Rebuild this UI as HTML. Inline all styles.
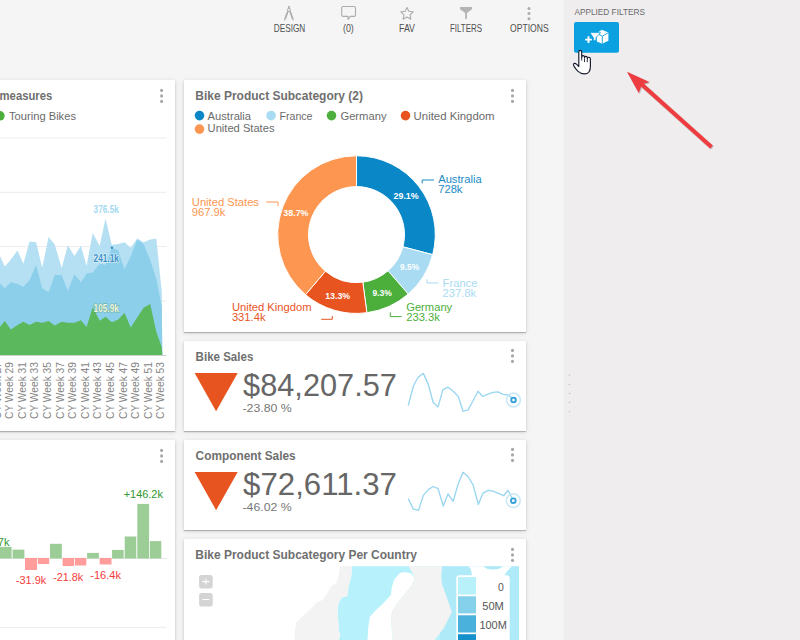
<!DOCTYPE html>
<html><head><meta charset="utf-8"><style>
html,body{margin:0;padding:0;}
body{width:800px;height:640px;overflow:hidden;background:#f5f5f5;position:relative;font-family:"Liberation Sans", sans-serif;}
.panel{position:absolute;left:565px;top:0;width:235px;height:640px;background:#efedee;box-shadow:-1px 0 1px rgba(0,0,0,0.035);}
.card{position:absolute;background:#fff;box-shadow:0 1px 1px rgba(0,0,0,0.22),0 1px 5px rgba(0,0,0,0.13);}
svg{position:absolute;left:0;top:0;}
</style></head><body>
<div class="panel"></div>
<div class="card" style="left:-167px;top:80px;width:342px;height:351px"></div>
<div class="card" style="left:184px;top:80px;width:342px;height:252px"></div>
<div class="card" style="left:184px;top:341px;width:342px;height:90px"></div>
<div class="card" style="left:184px;top:440px;width:342px;height:90px"></div>
<div class="card" style="left:184px;top:539px;width:342px;height:120px"></div>
<div class="card" style="left:-167px;top:440px;width:342px;height:220px"></div>
<svg width="800" height="640" viewBox="0 0 800 640" font-family='"Liberation Sans", sans-serif'>
<text x="273.8" y="31.9" font-size="10.1" fill="#505050" textLength="31.5" lengthAdjust="spacingAndGlyphs">DESIGN</text>
<text x="343" y="31.9" font-size="10.1" fill="#505050" textLength="10.8" lengthAdjust="spacingAndGlyphs">(0)</text>
<text x="399" y="31.9" font-size="10.1" fill="#505050" textLength="16" lengthAdjust="spacingAndGlyphs">FAV</text>
<text x="450" y="31.9" font-size="10.1" fill="#505050" textLength="32" lengthAdjust="spacingAndGlyphs">FILTERS</text>
<text x="510" y="31.9" font-size="10.1" fill="#505050" textLength="38.7" lengthAdjust="spacingAndGlyphs">OPTIONS</text>
<text x="574.4" y="14.8" font-size="9.7" fill="#6a6a6a" textLength="70.6" lengthAdjust="spacingAndGlyphs">APPLIED FILTERS</text>
<rect x="288.1" y="6" width="1.7" height="2.4" fill="#acacac"/><circle cx="288.95" cy="9.8" r="1.5" fill="none" stroke="#acacac" stroke-width="1"/>
<path d="M287.9,11.2 L285,19.2 M290,11.2 L292.9,19.2" stroke="#acacac" stroke-width="1.8" fill="none"/><path d="M285,19.2 L284.5,20.6 M292.9,19.2 L293.4,20.6" stroke="#acacac" stroke-width="1" fill="none"/>
<path d="M343,6.5 h11.2 q1.3,0 1.3,1.3 v7.3 q0,1.3 -1.3,1.3 h-3.8 l-2.3,3 v-3 h-5.1 q-1.3,0 -1.3,-1.3 v-7.3 q0,-1.3 1.3,-1.3 z" fill="none" stroke="#acacac" stroke-width="1.1" stroke-linejoin="round"/>
<polygon points="407.00,7.40 408.88,11.31 413.18,11.89 410.04,14.89 410.82,19.16 407.00,17.10 403.18,19.16 403.96,14.89 400.82,11.89 405.12,11.31" fill="none" stroke="#acacac" stroke-width="1.1" stroke-linejoin="round"/>
<path d="M460,7 H472 V9.3 L467,13 V18.4 L465.2,19.2 V13 L460,9.3 Z" fill="#b4b4b4"/>
<g fill="#acacac"><circle cx="529" cy="8.4" r="1.5"/><circle cx="529" cy="13.5" r="1.5"/><circle cx="529" cy="18.7" r="1.5"/></g>
<text x="-0.4" y="100.2" font-size="12.6" fill="#6f6f6f" font-weight="bold" textLength="52.6" lengthAdjust="spacingAndGlyphs">measures</text>
<g fill="#a6a6a6"><circle cx="161.60000000000002" cy="90.4" r="1.55"/><circle cx="161.60000000000002" cy="95.9" r="1.55"/><circle cx="161.60000000000002" cy="101.4" r="1.55"/></g>
<circle cx="-0.1" cy="115.8" r="4.8" fill="#4caf3c"/>
<text x="9" y="119.8" font-size="11.6" fill="#6b6b6b" textLength="67" lengthAdjust="spacingAndGlyphs">Touring Bikes</text>
<line x1="0" y1="138" x2="166.5" y2="138" stroke="#ececec" stroke-width="1"/>
<line x1="0" y1="192.3" x2="166.5" y2="192.3" stroke="#ececec" stroke-width="1"/>
<line x1="0" y1="246.6" x2="166.5" y2="246.6" stroke="#ececec" stroke-width="1"/>
<line x1="0" y1="300.9" x2="166.5" y2="300.9" stroke="#ececec" stroke-width="1"/>
<polygon points="-1,256.1 0,256.1 4.8,266.4 10.9,259.4 17.5,250.6 23.4,263.8 29.5,241.4 36.1,242.3 42.2,267.7 48.6,237.1 54.7,244.5 61.7,268.1 67.8,245.2 74.4,256.1 80.9,245.8 86.6,266 92.7,233.1 99.7,246 105.5,218.5 111.8,245 118.3,244 124.5,242.2 130.7,247.8 137.2,238.4 143.6,242.2 150.2,239.4 156.3,238.4 161.8,292 162.3,355.2 -1,355.2" fill="#b5e0f3"/>
<polygon points="-1,283.4 0,283.4 4.8,288.3 10.9,282.3 17.5,283.9 23.4,286.7 29.5,280.2 36.1,264.8 42.2,288.3 48.6,292.2 54.7,275.1 61.7,275.1 67.8,291.1 74.4,274.3 80.9,282.3 86.6,273.6 92.7,272.6 99.7,263.8 105.5,264.7 111.8,247.8 118.3,250.6 124.5,269.4 130.7,256.3 137.2,239.4 143.6,244.1 150.2,260 156.3,278.8 161.8,306.9 162.3,355.2 -1,355.2" fill="#8ccfeb"/>
<polygon points="-1,326.8 0,326.8 4.8,321.1 10.9,329.4 17.5,325 23.4,321.7 29.5,325 36.1,321.7 42.2,322.8 48.6,321.1 54.7,325.4 61.7,321.7 67.8,322.8 74.4,322.8 80.9,320.2 86.6,326.9 92.7,307.3 99.7,320.8 105.5,316.8 111.8,322.2 118.3,319.6 124.5,312.8 130.7,327.4 137.2,317.6 143.6,307.8 150.2,303.9 156.3,331.8 161.8,347.2 162.3,355.2 -1,355.2" fill="#5cb85c"/>
<line x1="0" y1="355.5" x2="166.5" y2="355.5" stroke="#d0d0d0" stroke-width="1"/>
<circle cx="111.9" cy="247.8" r="1.3" fill="#3d8fc4"/>
<text x="93.6" y="212.8" font-size="10.3" fill="#a3d8f1" font-weight="bold" textLength="25.2" lengthAdjust="spacingAndGlyphs" stroke="#fff" stroke-width="1.2" stroke-opacity="0.8" paint-order="stroke" stroke-linejoin="round">376.5k</text>
<text x="93.6" y="261.6" font-size="10.3" fill="#3a8fc6" font-weight="bold" textLength="25.2" lengthAdjust="spacingAndGlyphs" stroke="#fff" stroke-width="1.2" stroke-opacity="0.8" paint-order="stroke" stroke-linejoin="round">241.1k</text>
<text x="93.6" y="311.8" font-size="10.3" fill="#eef7e6" font-weight="bold" textLength="25.2" lengthAdjust="spacingAndGlyphs" stroke="#4c8f3c" stroke-width="0.9" stroke-opacity="0.7" paint-order="stroke">105.9k</text>
<text transform="translate(0.5,419) rotate(-90)" font-size="10.9" fill="#858585" textLength="57" lengthAdjust="spacingAndGlyphs">CY Week 27</text>
<text transform="translate(13.1,419) rotate(-90)" font-size="10.9" fill="#858585" textLength="57" lengthAdjust="spacingAndGlyphs">CY Week 29</text>
<text transform="translate(25.7,419) rotate(-90)" font-size="10.9" fill="#858585" textLength="57" lengthAdjust="spacingAndGlyphs">CY Week 31</text>
<text transform="translate(38.3,419) rotate(-90)" font-size="10.9" fill="#858585" textLength="57" lengthAdjust="spacingAndGlyphs">CY Week 33</text>
<text transform="translate(50.9,419) rotate(-90)" font-size="10.9" fill="#858585" textLength="57" lengthAdjust="spacingAndGlyphs">CY Week 35</text>
<text transform="translate(63.5,419) rotate(-90)" font-size="10.9" fill="#858585" textLength="57" lengthAdjust="spacingAndGlyphs">CY Week 37</text>
<text transform="translate(76.1,419) rotate(-90)" font-size="10.9" fill="#858585" textLength="57" lengthAdjust="spacingAndGlyphs">CY Week 39</text>
<text transform="translate(88.7,419) rotate(-90)" font-size="10.9" fill="#858585" textLength="57" lengthAdjust="spacingAndGlyphs">CY Week 41</text>
<text transform="translate(101.3,419) rotate(-90)" font-size="10.9" fill="#858585" textLength="57" lengthAdjust="spacingAndGlyphs">CY Week 43</text>
<text transform="translate(113.9,419) rotate(-90)" font-size="10.9" fill="#858585" textLength="57" lengthAdjust="spacingAndGlyphs">CY Week 45</text>
<text transform="translate(126.5,419) rotate(-90)" font-size="10.9" fill="#858585" textLength="57" lengthAdjust="spacingAndGlyphs">CY Week 47</text>
<text transform="translate(139.1,419) rotate(-90)" font-size="10.9" fill="#858585" textLength="57" lengthAdjust="spacingAndGlyphs">CY Week 49</text>
<text transform="translate(151.7,419) rotate(-90)" font-size="10.9" fill="#858585" textLength="57" lengthAdjust="spacingAndGlyphs">CY Week 51</text>
<text transform="translate(164.3,419) rotate(-90)" font-size="10.9" fill="#858585" textLength="57" lengthAdjust="spacingAndGlyphs">CY Week 53</text>
<g fill="#a6a6a6"><circle cx="161.60000000000002" cy="450.4" r="1.55"/><circle cx="161.60000000000002" cy="455.9" r="1.55"/><circle cx="161.60000000000002" cy="461.4" r="1.55"/></g>
<line x1="0" y1="558.5" x2="167" y2="558.5" stroke="#e6e6e6" stroke-width="1"/>
<rect x="-1" y="546.8" width="12.6" height="11.7" fill="#9ccd97"/>
<rect x="12.6" y="549.6" width="11.8" height="8.9" fill="#9ccd97"/>
<rect x="25" y="557.9" width="12.0" height="12.1" fill="#ff9d9d"/>
<rect x="37.8" y="557.9" width="11.4" height="6.1" fill="#ff9d9d"/>
<rect x="50" y="543.8" width="11.8" height="14.7" fill="#9ccd97"/>
<rect x="62.6" y="557.9" width="11.4" height="8.1" fill="#ff9d9d"/>
<rect x="74.8" y="557.9" width="11.5" height="7.6" fill="#ff9d9d"/>
<rect x="87.1" y="552.9" width="11.8" height="5.6" fill="#9ccd97"/>
<rect x="99.7" y="557.9" width="11.8" height="6.6" fill="#ff9d9d"/>
<rect x="112.1" y="549.9" width="11.6" height="8.6" fill="#9ccd97"/>
<rect x="124.7" y="536.5" width="11.6" height="22.0" fill="#9ccd97"/>
<rect x="137.3" y="503.9" width="11.8" height="54.6" fill="#9ccd97"/>
<rect x="149.9" y="541.1" width="11.4" height="17.4" fill="#9ccd97"/>
<text x="9.5" y="546" font-size="11" fill="#2f972f" text-anchor="end">+24.7k</text>
<text x="15.8" y="583.8" font-size="11" fill="#f53b3b" textLength="30.5" lengthAdjust="spacingAndGlyphs">-31.9k</text>
<text x="53.2" y="580.7" font-size="11" fill="#f53b3b" textLength="30.1" lengthAdjust="spacingAndGlyphs">-21.8k</text>
<text x="90.2" y="579.3" font-size="11" fill="#f53b3b" textLength="30.8" lengthAdjust="spacingAndGlyphs">-16.4k</text>
<text x="123.7" y="497.6" font-size="11" fill="#2f972f" textLength="39.2" lengthAdjust="spacingAndGlyphs">+146.2k</text>
<line x1="0" y1="627.4" x2="166.5" y2="627.4" stroke="#ececec" stroke-width="1"/>
<text x="195.3" y="100.3" font-size="12.6" fill="#6f6f6f" font-weight="bold" textLength="167.7" lengthAdjust="spacingAndGlyphs">Bike Product Subcategory (2)</text>
<g fill="#a6a6a6"><circle cx="512.5" cy="90.4" r="1.55"/><circle cx="512.5" cy="95.9" r="1.55"/><circle cx="512.5" cy="101.4" r="1.55"/></g>
<circle cx="199.5" cy="115.6" r="4.8" fill="#0a87c6"/>
<text x="207.6" y="119.6" font-size="11.6" fill="#6b6b6b" textLength="43.4" lengthAdjust="spacingAndGlyphs">Australia</text>
<circle cx="271.1" cy="115.6" r="4.8" fill="#a9dcf3"/>
<text x="279.5" y="119.6" font-size="11.6" fill="#6b6b6b" textLength="33" lengthAdjust="spacingAndGlyphs">France</text>
<circle cx="331.5" cy="115.6" r="4.8" fill="#4caf3c"/>
<text x="340.4" y="119.6" font-size="11.6" fill="#6b6b6b" textLength="46.2" lengthAdjust="spacingAndGlyphs">Germany</text>
<circle cx="405.5" cy="115.6" r="4.8" fill="#e8541f"/>
<text x="413.6" y="119.6" font-size="11.6" fill="#6b6b6b" textLength="81" lengthAdjust="spacingAndGlyphs">United Kingdom</text>
<circle cx="199.5" cy="129.1" r="4.8" fill="#fd9650"/>
<text x="207.6" y="131.9" font-size="11.6" fill="#6b6b6b" textLength="66.9" lengthAdjust="spacingAndGlyphs">United States</text>
<path d="M356.50,155.80 A78.8,78.8 0 0 1 432.70,254.68 L402.92,246.83 A48,48 0 0 0 356.50,186.60 Z" fill="#0a87c6" stroke="#fff" stroke-width="1" stroke-linejoin="round"/>
<path d="M432.70,254.68 A78.8,78.8 0 0 1 408.24,294.04 L388.02,270.80 A48,48 0 0 0 402.92,246.83 Z" fill="#a9dcf3" stroke="#fff" stroke-width="1" stroke-linejoin="round"/>
<path d="M408.24,294.04 A78.8,78.8 0 0 1 366.87,312.72 L362.82,282.18 A48,48 0 0 0 388.02,270.80 Z" fill="#4caf3c" stroke="#fff" stroke-width="1" stroke-linejoin="round"/>
<path d="M366.87,312.72 A78.8,78.8 0 0 1 305.51,294.68 L325.44,271.20 A48,48 0 0 0 362.82,282.18 Z" fill="#e8541f" stroke="#fff" stroke-width="1" stroke-linejoin="round"/>
<path d="M305.51,294.68 A78.8,78.8 0 0 1 356.50,155.80 L356.50,186.60 A48,48 0 0 0 325.44,271.20 Z" fill="#fd9650" stroke="#fff" stroke-width="1" stroke-linejoin="round"/>
<text x="393.5" y="198.6" font-size="9.4" fill="#fff" font-weight="bold" textLength="25.2" lengthAdjust="spacingAndGlyphs">29.1%</text>
<text x="400.1" y="270.29999999999995" font-size="9.4" fill="#fff" font-weight="bold" textLength="19.2" lengthAdjust="spacingAndGlyphs">9.5%</text>
<text x="372.4" y="295.5" font-size="9.4" fill="#fff" font-weight="bold" textLength="19.3" lengthAdjust="spacingAndGlyphs">9.3%</text>
<text x="325.2" y="298.9" font-size="9.4" fill="#fff" font-weight="bold" textLength="25" lengthAdjust="spacingAndGlyphs">13.3%</text>
<text x="283.3" y="215.8" font-size="9.4" fill="#fff" font-weight="bold" textLength="25.2" lengthAdjust="spacingAndGlyphs">38.7%</text>
<text x="438.2" y="183.4" font-size="11.2" fill="#1b8bc6">Australia</text>
<text x="438.2" y="193.4" font-size="11.2" fill="#1b8bc6">728k</text>
<text x="442.6" y="286.5" font-size="11.2" fill="#a9dcf3">France</text>
<text x="442.6" y="296.5" font-size="11.2" fill="#a9dcf3">237.8k</text>
<text x="406.2" y="311.2" font-size="11.2" fill="#4caf3c">Germany</text>
<text x="406.2" y="321.2" font-size="11.2" fill="#4caf3c">233.3k</text>
<text x="231.9" y="310.9" font-size="11.2" fill="#e8541f">United Kingdom</text>
<text x="231.9" y="320.9" font-size="11.2" fill="#e8541f">331.4k</text>
<text x="191.8" y="205.9" font-size="11.2" fill="#fd9650">United States</text>
<text x="191.8" y="215.9" font-size="11.2" fill="#fd9650">967.9k</text>
<path d="M422.2,183.4 V180 H434" fill="none" stroke="#1b8bc6" stroke-width="1"/>
<path d="M427,279.4 V283 H438.6" fill="none" stroke="#a9dcf3" stroke-width="1"/>
<path d="M390.3,312.3 V316.6 H401.6" fill="none" stroke="#4caf3c" stroke-width="1"/>
<path d="M321.2,319.3 H332.3 V316" fill="none" stroke="#e8541f" stroke-width="1"/>
<path d="M266.2,202 H278 V206" fill="none" stroke="#fd9650" stroke-width="1"/>
<text x="195.6" y="360.8" font-size="12.6" fill="#6f6f6f" font-weight="bold" textLength="57.7" lengthAdjust="spacingAndGlyphs">Bike Sales</text>
<g fill="#a6a6a6"><circle cx="512.5" cy="350.4" r="1.55"/><circle cx="512.5" cy="355.9" r="1.55"/><circle cx="512.5" cy="361.4" r="1.55"/></g>
<polygon points="194.6,373.1 237.7,373.1 216.1,411.2" fill="#e8541f"/>
<text x="243.1" y="395.6" font-size="30.8" fill="#666" textLength="153.8" lengthAdjust="spacingAndGlyphs">$84,207.57</text>
<text x="242.5" y="411.7" font-size="11.3" fill="#777" textLength="49.2" lengthAdjust="spacingAndGlyphs">-23.80 %</text>
<polyline points="408.2,405.7 413.4,386 418.1,377.3 423.3,373.4 428.3,384.4 433.1,402.2 438.1,406.9 442.8,389.9 448,387.2 453.5,391.5 458.3,396.5 463,411.2 468,410.1 472.8,401.3 478,391.2 482.7,396.5 487.4,394.3 492.9,392.3 498,391.8 503.1,394.3 508.7,395 513.5,400" fill="none" stroke="#9ad6f0" stroke-width="1.35" stroke-linejoin="round"/>
<circle cx="513.5" cy="400" r="6.9" fill="none" stroke="#c9e7f5" stroke-width="1.5"/>
<circle cx="513.5" cy="400" r="2.3" fill="#fff" stroke="#38a0d8" stroke-width="1.9"/>
<text x="195.6" y="459.8" font-size="12.6" fill="#6f6f6f" font-weight="bold" textLength="100.1" lengthAdjust="spacingAndGlyphs">Component Sales</text>
<g fill="#a6a6a6"><circle cx="512.5" cy="449.4" r="1.55"/><circle cx="512.5" cy="454.9" r="1.55"/><circle cx="512.5" cy="460.4" r="1.55"/></g>
<polygon points="194.6,472.1 237.7,472.1 216.1,510.2" fill="#e8541f"/>
<text x="243.1" y="494.6" font-size="30.8" fill="#666" textLength="153.8" lengthAdjust="spacingAndGlyphs">$72,611.37</text>
<text x="242.5" y="510.7" font-size="11.3" fill="#777" textLength="49.2" lengthAdjust="spacingAndGlyphs">-46.02 %</text>
<polyline points="408.2,498.6 413.4,509.1 418.6,510.4 423.3,495.4 428.3,489.6 433.1,486.5 438.1,488.7 443.3,506 448,493.9 453.2,501.3 458,484.4 463,472.3 468,476.5 473.2,485.2 478.3,504.4 483,493.1 488.2,490.4 492.9,491.2 498.4,493.4 503.6,495.7 508.1,490.3 513.3,500.7" fill="none" stroke="#9ad6f0" stroke-width="1.35" stroke-linejoin="round"/>
<circle cx="513.3" cy="500.7" r="6.9" fill="none" stroke="#c9e7f5" stroke-width="1.5"/>
<circle cx="513.3" cy="500.7" r="2.3" fill="#fff" stroke="#38a0d8" stroke-width="1.9"/>
<text x="195.3" y="559.1" font-size="12.6" fill="#6f6f6f" font-weight="bold" textLength="221.7" lengthAdjust="spacingAndGlyphs">Bike Product Subcategory Per Country</text>
<g fill="#a6a6a6"><circle cx="512.5" cy="549.4" r="1.55"/><circle cx="512.5" cy="554.9" r="1.55"/><circle cx="512.5" cy="560.4" r="1.55"/></g>
<defs><clipPath id="mapclip"><rect x="185" y="566.2" width="334" height="80"/></clipPath></defs>
<g clip-path="url(#mapclip)"><polygon points="351.9,566 351.25,576.25 348.1,588.75 348.1,593 346.9,596.25 341.9,597.5 338.75,602.5 337.5,610 338.1,618.75 338.75,630 340,635 338.75,641 519,641 519,566" fill="#b7f1fb"/><rect x="440" y="566.2" width="79" height="80" fill="#aeeaf8"/><polygon points="340,566 351.9,566 351.25,576.25 348.1,588.75 348.1,593 346.9,596.25 341.9,597.5 338.75,602.5 337.5,610 338.1,618.75 338.75,630 340,635 338.75,641 294.4,641 295,630 296.25,622.5 301.25,617.5 306.25,612.5 312.5,607.5 316.25,602.5 322.5,600 327.5,592.5 331.25,586.25 336.9,582.5 338.75,575" fill="#f3f3f3"/><polygon points="408,566 442.1,566 441.3,576.2 442.1,584.4 446.2,595.7 451.9,612 443.7,628.2 434,641 392.6,641 390.9,616.9 392.6,610.4 396.6,603.9 404.7,594.1 412,584.4 414.5,577.9 411.5,571" fill="#f3f3f3"/><polygon points="399.9,573 394.2,579.5 391.7,587.6 390.9,594.9 383.6,603.1 375.5,610.4 369.8,616.9 368.2,628.2 367.4,641 392.6,641 390.9,616.9 392.6,610.4 396.6,603.9 404.7,594.1 412,584.4 414.5,577.9 411,573.5 405,572" fill="#ffffff"/><path d="M467.6,566 Q471,568 471.5,572.4 L472,576 L504,576 Q506,572 512,566 Z" fill="#fff"/><path d="M483.3,566 Q486,569.5 493,569.5 Q500,569.5 503,566 Z" fill="#aee8f7"/></g>
<rect x="199.1" y="575.1" width="13.6" height="13.5" rx="2.5" fill="#d4d4d4"/>
<rect x="199.1" y="593.1" width="13.6" height="13.5" rx="2.5" fill="#d4d4d4"/>
<path d="M202.4,581.6 h6.9 M205.9,578.8 v5.6 M202.4,599.5 h6.9" stroke="#fff" stroke-width="1.05"/>
<rect x="456.3" y="575.2" width="53.4" height="80" rx="3" fill="#fff"/>
<rect x="458" y="577.1" width="18" height="17.50" fill="#b9f1fb"/>
<rect x="458" y="596.25" width="18" height="17.15" fill="#85d1ec"/>
<rect x="458" y="615.3" width="18" height="17.20" fill="#4ab0dc"/>
<rect x="458" y="634.2" width="18" height="25.80" fill="#1590cb"/>
<text x="498.1" y="590.9" font-size="10.2" fill="#555" textLength="5.8" lengthAdjust="spacingAndGlyphs">0</text>
<text x="482.2" y="609.7" font-size="10.2" fill="#555" textLength="21.7" lengthAdjust="spacingAndGlyphs">50M</text>
<text x="479.4" y="628.6" font-size="10.2" fill="#555" textLength="27.4" lengthAdjust="spacingAndGlyphs">100M</text>
<rect x="574" y="22" width="45" height="30.7" rx="2" fill="#0ba0df"/>
<path d="M585.2,39.6 H591.8 M588.5,36.3 V42.9" stroke="#fff" stroke-width="1.9"/>
<g stroke="#0ba0df" stroke-width="0.9" stroke-linejoin="round"><path d="M601.8,29.8 L608.4,32.6 L608.4,40.8 L602.3,43.8 L596.8,41.4 L596.8,33.2 Z" fill="#fff" stroke="none"/><path d="M596.8,33.2 L602.3,36.2 L608.4,32.6 M602.3,36.2 V43.8" fill="none"/></g>
<path d="M589.8,32.6 H600.6 L596,37.7 V40.4 H593.4 V37.7 Z" fill="#fff" stroke="#0ba0df" stroke-width="0.8" stroke-linejoin="round"/>
<path d="M578.8,66.5 L578.8,52 Q578.8,50.4 580.25,50.4 Q581.7,50.4 581.7,52 L581.7,57.2 Q581.7,55.6 583.1,55.6 Q584.5,55.6 584.5,57.2 L584.5,57.8 Q584.5,56.3 585.9,56.3 Q587.3,56.3 587.3,57.8 L587.3,58.6 Q587.3,57.2 588.7,57.2 Q590.4,57.2 590.4,59 L590.4,66.5 Q590.4,73.9 584.5,73.9 Q580.5,73.9 577.8,71.2 L575.6,68.6 L573.7,65.6 Q573,64.2 574.1,63.6 Q575.3,63 576.4,64.2 Z" fill="#fff" stroke="#161a2e" stroke-width="1.15" stroke-linejoin="round"/>
<path d="M581.7,57 v3.6 M584.5,58.5 v3.6 M587.3,59 v3.2" stroke="#161a2e" stroke-width="0.9"/>
<circle cx="569.3" cy="374.8" r="1" fill="#b9b7b8"/><circle cx="568.9" cy="374.5" r="0.8" fill="#fff"/>
<circle cx="569.3" cy="383.90000000000003" r="1" fill="#b9b7b8"/><circle cx="568.9" cy="383.6" r="0.8" fill="#fff"/>
<circle cx="569.3" cy="393.0" r="1" fill="#b9b7b8"/><circle cx="568.9" cy="392.7" r="0.8" fill="#fff"/>
<circle cx="569.3" cy="402.1" r="1" fill="#b9b7b8"/><circle cx="568.9" cy="401.8" r="0.8" fill="#fff"/>
<circle cx="569.3" cy="411.2" r="1" fill="#b9b7b8"/><circle cx="568.9" cy="410.9" r="0.8" fill="#fff"/>
<g filter="url(#ash)"><line x1="711.5" y1="147" x2="639" y2="82" stroke="#ee3c40" stroke-width="4" stroke-linecap="butt"/><polygon points="627,71.7 649.4,81.9 641.9,84.2 638.75,93.1" fill="#ee3c40"/></g>
<defs><filter id="ash" x="-20%" y="-20%" width="140%" height="140%"><feDropShadow dx="0.6" dy="0.8" stdDeviation="0.5" flood-color="#000" flood-opacity="0.35"/></filter></defs>
</svg>
</body></html>
